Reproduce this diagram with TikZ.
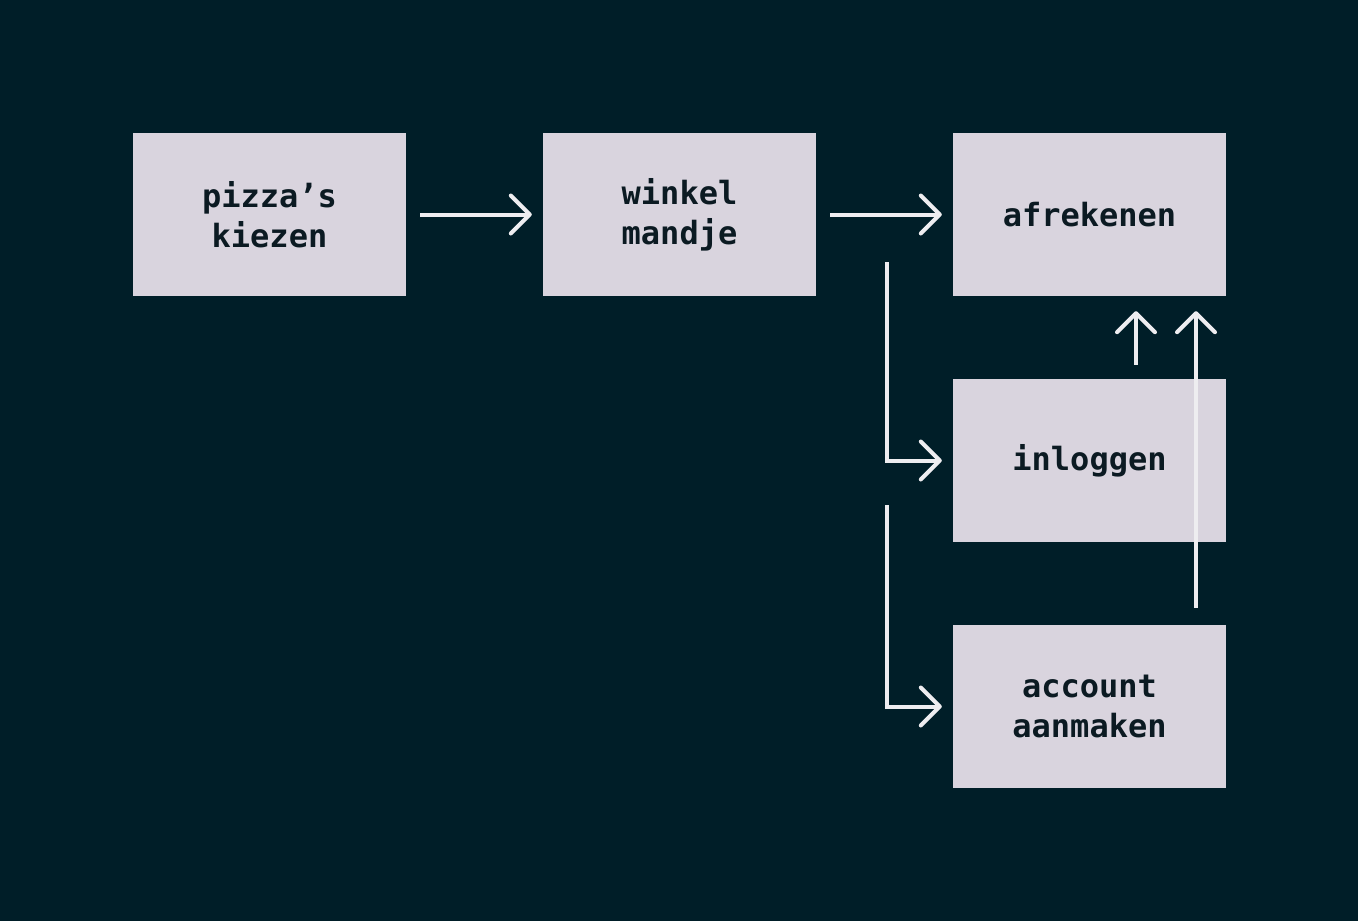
\documentclass[tikz,border=0pt]{standalone}
\usepackage{fontspec}
\newfontfamily\diamono{DejaVu Sans Mono}
\usetikzlibrary{arrows.meta}
\definecolor{bgc}{HTML}{001E28}
\definecolor{boxc}{HTML}{D9D4DE}
\definecolor{linec}{HTML}{EEEDF0}
\definecolor{txtc}{HTML}{0B1A22}
\begin{document}
\begin{tikzpicture}[x=1pt,y=-1pt,
  stepbox/.style={fill=boxc, draw=none, minimum width=273pt, minimum height=163pt,
    inner sep=0pt, align=center, text=txtc,
    font=\diamono\bfseries\fontsize{32}{40}\selectfont},
  conn/.style={draw=linec, line width=4pt,
    -{Straight Barb[length=19pt,width=38pt,line cap=round,line join=round]}},
  plain/.style={draw=linec, line width=4pt}]
\fill[bgc] (0,0) rectangle (1358,921);
\useasboundingbox (0,0) rectangle (1358,921);
\node[stepbox] (A) at (269.5,214.5) {pizza’s\\kiezen};
\node[stepbox] (B) at (679.5,214.5) {winkel\\mandje};
\node[stepbox] (C) at (1089.5,214.5) {afrekenen};
\node[stepbox] (D) at (1089.5,460.5) {inloggen};
\node[stepbox] (E) at (1089.5,706.5) {account\\aanmaken};
\coordinate (s1) at (887,262);
\coordinate (s2) at (887,505);
\draw[conn] ([xshift=14pt]A.east) -- ([xshift=-11pt]B.west);
\draw[conn] ([xshift=14pt]B.east) -- ([xshift=-11pt]C.west);
\draw[conn] (s1) |- ([xshift=-11pt]D.west);
\draw[conn] (s2) |- ([xshift=-11pt]E.west);
\draw[conn] ([xshift=46.5pt,yshift=14pt]D.north) -- ([xshift=46.5pt,yshift=-15pt]C.south);
\draw[conn] ([xshift=106.5pt,yshift=17pt]E.north) -- ([xshift=106.5pt,yshift=-15pt]C.south);
\end{tikzpicture}
\end{document}
